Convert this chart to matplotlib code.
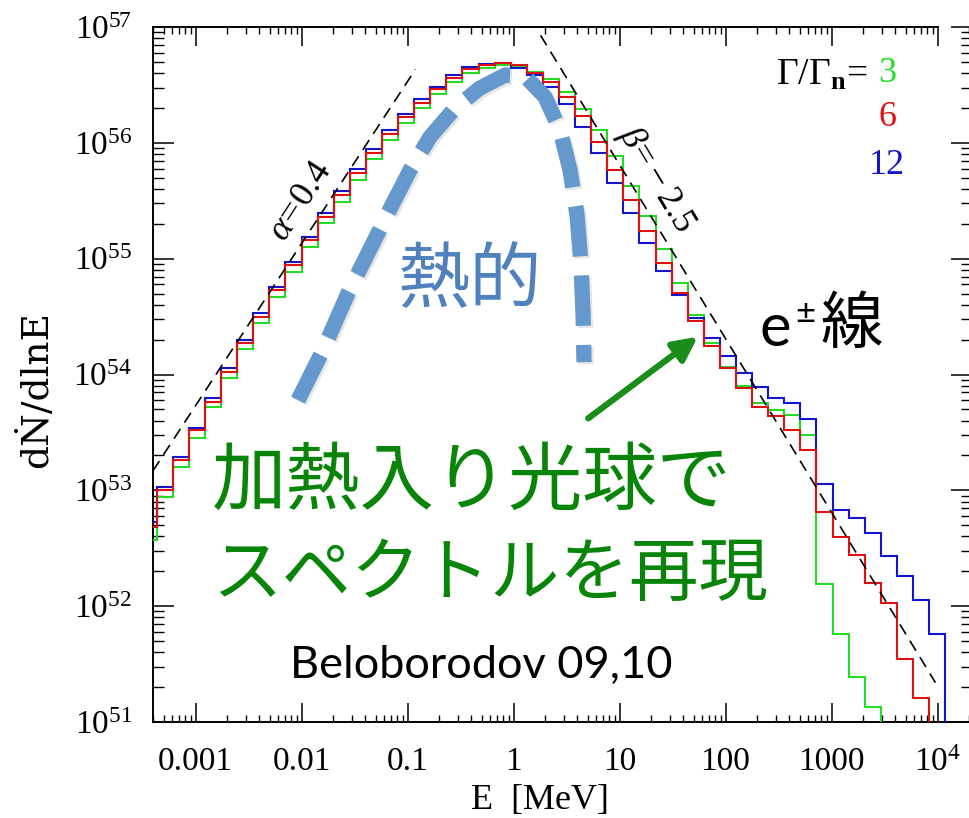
import numpy as np
import matplotlib
matplotlib.use('Agg')
import matplotlib.pyplot as plt
from matplotlib.ticker import FixedLocator, FixedFormatter, LogLocator, NullFormatter
import matplotlib.patheffects as pe

# ---------------- data ----------------
# logarithmic energy bins (MeV)
log_E_first_edge = -3.518
log_bin_width = 0.1518
n_bins = 51

# log10(dN/dlnE) per bin; None = empty bin
logN_3 = [52.570, 52.944, 53.203, 53.448, 53.716, 53.966, 54.217, 54.441, 54.671, 54.887,
          55.103, 55.310, 55.491, 55.679, 55.858, 56.024, 56.174, 56.303, 56.419, 56.522,
          56.603, 56.650, 56.676, 56.655, 56.614, 56.547, 56.441, 56.292, 56.111, 55.890,
          55.627, 55.365, 55.083, 54.792, 54.513, 54.269, 54.068, 53.904, 53.750, 53.693,
          53.649, 53.477, 52.190, 51.764, 51.390, 51.130, None, None, None, None, None]
logN_6 = [52.685, 53.002, 53.261, 53.520, 53.764, 54.023, 54.269, 54.498, 54.729, 54.945,
          55.161, 55.362, 55.549, 55.737, 55.915, 56.080, 56.220, 56.346, 56.462, 56.562,
          56.637, 56.672, 56.692, 56.672, 56.600, 56.528, 56.398, 56.231, 56.009, 55.765,
          55.510, 55.238, 54.962, 54.700, 54.464, 54.245, 54.053, 53.887, 53.718, 53.641,
          53.520, 53.347, 52.814, 52.598, 52.440, 52.196, 52.029, 51.548, 51.203, None, None]
logN_12 = [52.728, 53.025, 53.284, 53.540, 53.794, 54.053, 54.297, 54.528, 54.757, 54.975,
           55.184, 55.391, 55.586, 55.771, 55.944, 56.111, 56.249, 56.376, 56.484, 56.585,
           56.655, 56.680, 56.687, 56.646, 56.585, 56.486, 56.335, 56.141, 55.909, 55.657,
           55.391, 55.132, 54.893, 54.686, 54.484, 54.312, 54.159, 54.012, 53.889, 53.794,
           53.750, 53.612, 53.051, 52.829, 52.757, 52.628, 52.432, 52.259, 52.052, 51.764, None]

series_names = ['3', '6', '12']
series_colors = ['#22dd22', '#dd1111', '#1414cc']

# power-law guide lines (log10 E, log10 N at the two ends)
alpha_line_logE = [-3.401, -0.925]
alpha_line_logN = [53.169, 56.635]
beta_line_logE = [0.255, 3.98]
beta_line_logN = [56.928, 51.340]

# thermal (annotation) curve, log10 E and log10 N
thermal_logE = [-2.033, -1.797, -1.561, -1.335, -1.146, -0.976, -0.788, -0.552, -0.316,
                -0.080, 0.108, 0.297, 0.438, 0.533, 0.599, 0.637, 0.656, 0.665]
thermal_logN = [53.779, 54.211, 54.703, 55.117, 55.463, 55.765, 56.050, 56.301, 56.473,
                56.585, 56.577, 56.396, 56.111, 55.765, 55.377, 54.945, 54.513, 54.107]

xtick_values = [1e-3, 1e-2, 1e-1, 1, 10, 100, 1000, 1e4]
xtick_labels = ['0.001', '0.01', '0.1', '1', '10', '100', '1000', r'$10^4$']
ytick_values = [1e51, 1e52, 1e53, 1e54, 1e55, 1e56, 1e57]
ytick_labels = [r'$10^{51}$', r'$10^{52}$', r'$10^{53}$', r'$10^{54}$', r'$10^{55}$',
                r'$10^{56}$', r'$10^{57}$']

# ---------------- figure ----------------
plt.rcParams['font.family'] = ['Liberation Serif', 'DejaVu Serif']
plt.rcParams['mathtext.fontset'] = 'custom'
plt.rcParams['mathtext.rm'] = 'Liberation Serif'
plt.rcParams['mathtext.it'] = 'Liberation Serif:italic'
plt.rcParams['mathtext.bf'] = 'Liberation Serif:bold'

W, H = 969, 818
fig = plt.figure(figsize=(W / 100, H / 100), dpi=100)


def fx(x):
    return x / W


def fy(y):
    return 1 - y / H


ax = fig.add_axes([fx(153), fy(722), (972 - 153) / W, (722 - 27) / H])
ax.set_xscale('log')
ax.set_yscale('log')
ax.set_xlim(10 ** -3.401, 10 ** 4.325)
ax.set_ylim(1e51, 1e57)

edges = 10 ** (log_E_first_edge + log_bin_width * np.arange(n_bins + 1))
floor = 1e40
for vals, col in zip([logN_3, logN_12, logN_6], [series_colors[0], series_colors[2], series_colors[1]]):
    v = np.array([floor if s is None else 10 ** s for s in vals])
    ax.stairs(v, edges, baseline=None, color=col, lw=1.5, zorder=3)

ax.plot(10 ** np.array(alpha_line_logE), 10 ** np.array(alpha_line_logN), color='black',
        lw=1.2, dashes=(7, 4.5), zorder=4)
ax.plot(10 ** np.array(beta_line_logE), 10 ** np.array(beta_line_logN), color='black',
        lw=1.2, dashes=(7, 4.5), zorder=4)

ax.plot(10 ** np.array(thermal_logE), 10 ** np.array(thermal_logN), color='#6598cc',
        lw=11, dashes=(3.3, 1.25), solid_capstyle='butt', dash_capstyle='butt', zorder=5,
        path_effects=[pe.SimpleLineShadow(offset=(1.5, -1.5), shadow_color='#999999', alpha=0.25),
                      pe.Normal()])

# ticks
ax.xaxis.set_major_locator(FixedLocator(xtick_values))
ax.xaxis.set_major_formatter(FixedFormatter(xtick_labels))
ax.xaxis.set_minor_locator(LogLocator(base=10, subs=np.arange(2, 10), numticks=50))
ax.xaxis.set_minor_formatter(NullFormatter())
ax.yaxis.set_major_locator(FixedLocator(ytick_values))
ax.yaxis.set_major_formatter(FixedFormatter(ytick_labels))
ax.yaxis.set_minor_locator(LogLocator(base=10, subs=np.arange(2, 10), numticks=50))
ax.yaxis.set_minor_formatter(NullFormatter())
ax.tick_params(axis='x', which='major', direction='in', length=14, width=1.1, top=True,
               labelsize=24, pad=18)
ax.tick_params(axis='x', which='minor', direction='in', length=5, width=1.0, top=True)
ax.tick_params(axis='y', which='major', direction='in', length=15, width=1.1, right=True,
               labelsize=24, pad=15)
ax.tick_params(axis='y', which='minor', direction='in', length=8, width=1.0, right=True)
for s in ax.spines.values():
    s.set_linewidth(1.4)
ax.spines['top'].set_bounds(10 ** -3.401, 1e4)

# axis labels
fig.text(fx(36), fy(390), 'dṄ/dlnE', rotation=90, ha='center', va='center', fontsize=27,
         family=['DejaVu Serif'])
fig.text(fx(540), fy(800), r'E  [MeV]', ha='center', va='center', fontsize=26)

# legend-like labels
fig.text(fx(868), fy(75), r'$\Gamma/\Gamma_{\mathbf{n}}\!=$', ha='right', va='center', fontsize=27)
for name, col, yy in zip(series_names, series_colors, [74, 118, 165]):
    fig.text(fx(887), fy(yy), name, ha='center', va='center', fontsize=26, color=col)

ax.text(10 ** -2.005, 10 ** 55.49, r'$\alpha\!=\!0.4$', rotation=57, ha='center', va='center',
        rotation_mode='anchor', fontsize=26)
ax.text(10 ** 1.344, 10 ** 55.68, r'$\beta\!=\!-2.5$', rotation=-59, ha='center', va='center',
        rotation_mode='anchor', fontsize=26)

# slide annotations
cjk = ['Noto Sans CJK JP', 'DejaVu Sans']
fig.text(fx(470), fy(282), '熱的', ha='center', va='center', fontsize=52, color='#4f81bd',
         family=cjk, zorder=6)
fig.text(fx(212), fy(482), '加熱入り光球で', ha='left', va='center', fontsize=53.5,
         color='#088508', family=cjk, zorder=6)
fig.text(fx(212), fy(575), 'スペクトルを再現', ha='left', va='center', fontsize=50,
         color='#088508', family=cjk, zorder=6)
fig.text(fx(760), fy(346), 'e', ha='left', va='baseline', fontsize=43, color='black',
         family=['Lato', 'DejaVu Sans'])
fig.text(fx(795), fy(313), '±', ha='left', va='center', fontsize=25, color='black',
         family=['Lato', 'DejaVu Sans'])
fig.text(fx(852), fy(325), '線', ha='center', va='center', fontsize=45, color='black',
         family=cjk)
fig.text(fx(290), fy(678), 'Beloborodov 09,10', ha='left', va='baseline', fontsize=32.5,
         color='black', family=['Lato', 'DejaVu Sans'])

fig.patches.append(matplotlib.patches.FancyArrowPatch(
    (fx(586), fy(420)), (fx(700), fy(335)), transform=fig.transFigure,
    arrowstyle='-|>', mutation_scale=36, color='#1a8c1a', lw=4.5))

fig.savefig('out.png', dpi=100)
